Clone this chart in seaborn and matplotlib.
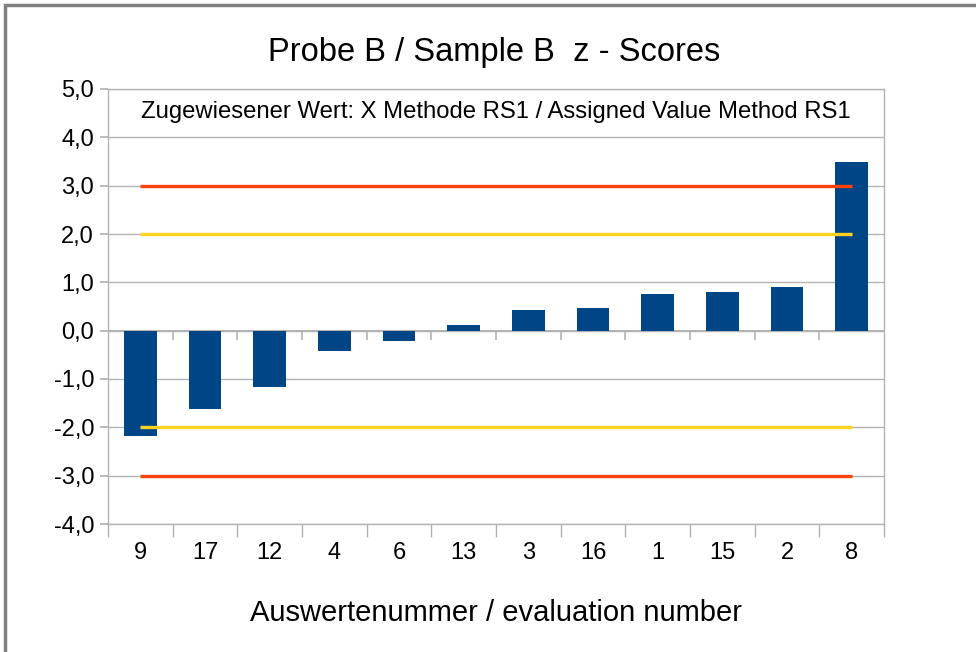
import matplotlib
matplotlib.use("Agg")
import matplotlib.pyplot as plt
import seaborn as sns
import numpy as np
import pandas as pd
from matplotlib.ticker import FuncFormatter, FixedLocator
from matplotlib.patches import Rectangle

labels = ["9", "17", "12", "4", "6", "13", "3", "16", "1", "15", "2", "8"]
zscores = [-2.17, -1.63, -1.17, -0.43, -0.22, 0.12, 0.43, 0.46, 0.75, 0.79, 0.91, 3.48]
warn_limits = [2.0, -2.0]
action_limits = [3.0, -3.0]

title = "Probe B / Sample B  z - Scores"
subtitle = "Zugewiesener Wert: X Methode RS1 / Assigned Value Method RS1"
xlabel = "Auswertenummer / evaluation number"

sns.set_theme(style="white")
plt.rcParams["font.family"] = ["Liberation Sans", "DejaVu Sans"]
plt.rcParams["text.color"] = "black"
plt.rcParams["axes.labelcolor"] = "black"

BAR = "#004586"
RED = "#FF420E"
YEL = "#FFD320"
GRID = "#b3b3b3"

fig = plt.figure(figsize=(9.76, 6.52), dpi=100)
fig.patch.set_facecolor("white")
# outer frame
fig.add_artist(Rectangle((5/976, -0.05), 1.2, 1 - 5/652 + 0.05, transform=fig.transFigure,
                         fill=False, edgecolor="#808080", linewidth=2.5))

ax = fig.add_axes([108/976, 1 - 524/652, (884 - 108)/976, (524 - 89)/652])
df = pd.DataFrame({"label": labels, "z": zscores})
sns.barplot(data=df, x="label", y="z", order=labels, color=BAR, width=0.51,
            saturation=1, linewidth=0, ax=ax, zorder=3)

n = len(labels)
for v in action_limits:
    ax.hlines(v, 0, n - 1, color=RED, linewidth=2.4, zorder=4)
for v in warn_limits:
    ax.hlines(v, 0, n - 1, color=YEL, linewidth=2.4, zorder=4)

ax.set_xlim(-0.5, n - 0.5)
ax.set_ylim(-4, 5)
ax.yaxis.set_major_locator(FixedLocator(np.arange(-4, 5.5, 1)))
ax.yaxis.set_major_formatter(FuncFormatter(lambda v, p: f"{v:.1f}".replace(".", ",")))
ax.grid(axis="y", color=GRID, linewidth=1, zorder=0)
ax.set_axisbelow(True)
for s in ax.spines.values():
    s.set_color(GRID)
    s.set_linewidth(1)

ax.tick_params(axis="y", which="major", length=6, color=GRID, labelsize=17, pad=4,
               left=True, labelcolor="black")
ax.tick_params(axis="x", which="major", length=0, labelsize=17, pad=13, labelcolor="black")
ax.xaxis.set_minor_locator(FixedLocator(np.arange(-0.5, n, 1)))
ax.tick_params(axis="x", which="minor", length=9, color=GRID, width=1, bottom=True)

# ticks on the zero line
ymin, ymax = ax.get_ylim()
tick_len = 9 / (ax.get_window_extent().height) * (ymax - ymin)
ax.vlines(np.arange(0.5, n - 1, 1), -tick_len, 0, color=GRID, linewidth=1.2, zorder=2)
ax.axhline(0, color=GRID, linewidth=1.5, zorder=2)

ax.set_xlabel(xlabel, fontsize=21, labelpad=25, color="black")
ax.set_ylabel("")
fig.text(494/976, 1 - 53/652, title, ha="center", va="center", fontsize=23.5, color="black")
ax.text(0.5, 1 - (112 - 89)/(524 - 89), subtitle, transform=ax.transAxes,
        ha="center", va="center", fontsize=17.2, color="black")

fig.savefig("out.png", dpi=100, facecolor="white")
